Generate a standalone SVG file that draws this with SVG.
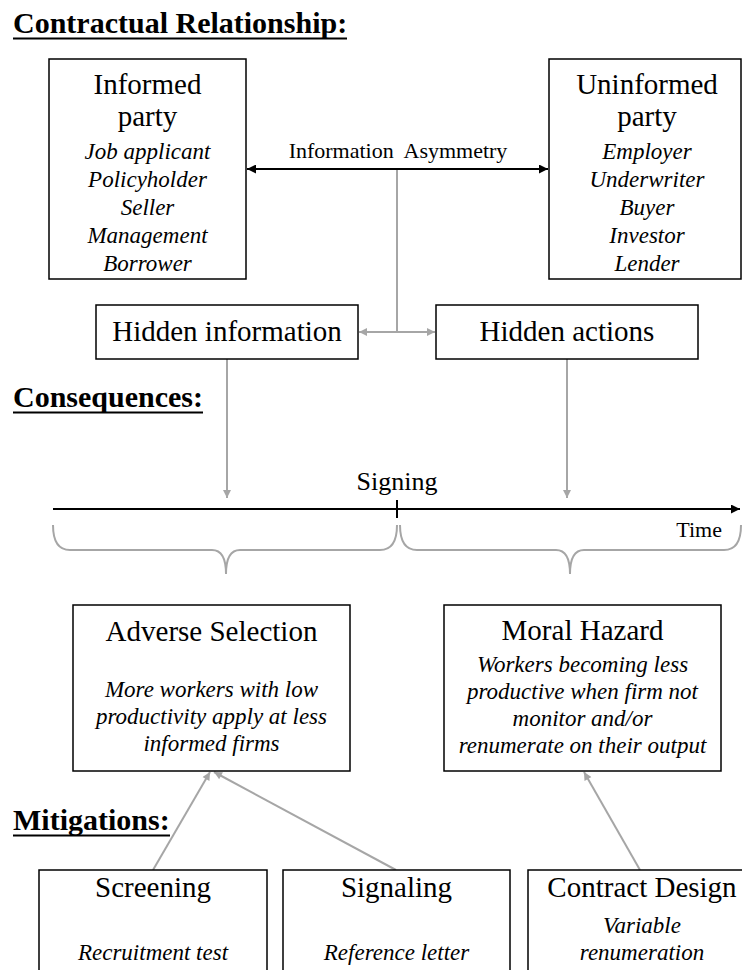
<svg xmlns="http://www.w3.org/2000/svg" width="742" height="970" viewBox="0 0 742 970">
  <defs>
    <marker id="headBlack" viewBox="0 0 10 10" refX="10" refY="5" markerWidth="10" markerHeight="9" markerUnits="userSpaceOnUse" orient="auto-start-reverse">
      <path d="M0,0 L10,5 L0,10 Z" fill="#000"/>
    </marker>
    <marker id="headGray" viewBox="0 0 10 10" refX="10" refY="5" markerWidth="10" markerHeight="8" markerUnits="userSpaceOnUse" orient="auto-start-reverse">
      <path d="M0,0 L10,5 L0,10 Z" fill="#a6a6a6"/>
    </marker>
  </defs>
  <style>
    .box { fill: #fff; stroke: #000; stroke-width: 1.5; }
    .head { font-family: "Liberation Serif", "Times New Roman", serif; font-size: 30px; font-weight: bold; fill: #000; }
    .uline { stroke: #000; stroke-width: 2; }
    .title { font-family: "Liberation Serif", "Times New Roman", serif; font-size: 29px; fill: #000; text-anchor: middle; }
    .ital { font-family: "Liberation Serif", "Times New Roman", serif; font-size: 23px; font-style: italic; fill: #000; text-anchor: middle; }
    .lbl { font-family: "Liberation Serif", "Times New Roman", serif; font-size: 22px; fill: #000; }
    .lbl.big { font-size: 26px; }
    .gray { fill: none; stroke: #a6a6a6; stroke-width: 2; }
    .black { fill: none; stroke: #000; stroke-width: 2; }
  </style>
  <rect width="742" height="970" fill="#fff"/>

  <!-- section headings -->
  <g id="headings">
    <text class="head" x="13" y="33">Contractual Relationship:</text>
    <line class="uline" x1="13" y1="38.5" x2="347" y2="38.5"/>
    <text class="head" x="13" y="407">Consequences:</text>
    <line class="uline" x1="13" y1="412.5" x2="203" y2="412.5"/>
    <text class="head" x="13" y="830">Mitigations:</text>
    <line class="uline" x1="13" y1="835.5" x2="170" y2="835.5"/>
  </g>

  <!-- connectors -->
  <g id="connectors">
    <line class="black" x1="247" y1="169" x2="548" y2="169" marker-start="url(#headBlack)" marker-end="url(#headBlack)"/>
    <line class="gray" x1="397" y1="170" x2="397" y2="332"/>
    <line class="gray" x1="359" y1="332" x2="435" y2="332" marker-start="url(#headGray)" marker-end="url(#headGray)"/>
    <line class="gray" x1="227" y1="359" x2="227" y2="498" marker-end="url(#headGray)"/>
    <line class="gray" x1="567" y1="359" x2="567" y2="498" marker-end="url(#headGray)"/>
    <line class="gray" x1="153" y1="870" x2="210" y2="772" marker-end="url(#headGray)"/>
    <line class="gray" x1="396" y1="870" x2="214" y2="772" marker-end="url(#headGray)"/>
    <line class="gray" x1="640" y1="870" x2="584" y2="772" marker-end="url(#headGray)"/>
  </g>

  <g id="info-asymmetry-label">
    <text class="lbl" x="398" y="158" text-anchor="middle" xml:space="preserve">Information  Asymmetry</text>
  </g>

  <!-- timeline -->
  <g id="timeline">
    <line class="black" x1="53" y1="509" x2="740" y2="509" marker-end="url(#headBlack)"/>
    <line class="black" x1="397" y1="500" x2="397" y2="518"/>
    <text class="lbl big" x="397" y="490" text-anchor="middle">Signing</text>
    <text class="lbl" x="722" y="537" text-anchor="end">Time</text>
    <path class="gray" d="M53,525 Q53,550 70,550 H212 Q226,550 226,574 Q226,550 240,550 H380 Q397,550 397,525"/>
    <path class="gray" d="M400,525 Q400,550 417,550 H556 Q570,550 570,574 Q570,550 584,550 H724 Q741,550 741,525"/>
  </g>

  <g id="informed-party">
    <rect class="box" x="49" y="59" width="197" height="220"/>
    <text class="title" x="147.5" y="94">Informed</text>
    <text class="title" x="147.5" y="126">party</text>
    <text class="ital" x="147.5" y="159">Job applicant</text>
    <text class="ital" x="147.5" y="187">Policyholder</text>
    <text class="ital" x="147.5" y="215">Seller</text>
    <text class="ital" x="147.5" y="243">Management</text>
    <text class="ital" x="147.5" y="271">Borrower</text>
  </g>

  <g id="uninformed-party">
    <rect class="box" x="549" y="59" width="192" height="220"/>
    <text class="title" x="647" y="94">Uninformed</text>
    <text class="title" x="647" y="126">party</text>
    <text class="ital" x="647" y="159">Employer</text>
    <text class="ital" x="647" y="187">Underwriter</text>
    <text class="ital" x="647" y="215">Buyer</text>
    <text class="ital" x="647" y="243">Investor</text>
    <text class="ital" x="647" y="271">Lender</text>
  </g>

  <g id="hidden-information">
    <rect class="box" x="96" y="305" width="262" height="54"/>
    <text class="title" x="227" y="341">Hidden information</text>
  </g>

  <g id="hidden-actions">
    <rect class="box" x="436" y="305" width="262" height="54"/>
    <text class="title" x="567" y="341">Hidden actions</text>
  </g>

  <g id="adverse-selection">
    <rect class="box" x="73" y="605" width="277" height="166"/>
    <text class="title" x="211.5" y="641">Adverse Selection</text>
    <text class="ital" x="211.5" y="697">More workers with low</text>
    <text class="ital" x="211.5" y="724">productivity apply at less</text>
    <text class="ital" x="211.5" y="751">informed firms</text>
  </g>

  <g id="moral-hazard">
    <rect class="box" x="444" y="605" width="277" height="166"/>
    <text class="title" x="582.5" y="640">Moral Hazard</text>
    <text class="ital" x="582.5" y="672">Workers becoming less</text>
    <text class="ital" x="582.5" y="699">productive when firm not</text>
    <text class="ital" x="582.5" y="726">monitor and/or</text>
    <text class="ital" x="582.5" y="753">renumerate on their output</text>
  </g>

  <g id="screening">
    <rect class="box" x="39" y="870" width="228" height="110"/>
    <text class="title" x="153" y="897">Screening</text>
    <text class="ital" x="153" y="960">Recruitment test</text>
  </g>

  <g id="signaling">
    <rect class="box" x="283" y="870" width="227" height="110"/>
    <text class="title" x="396.5" y="897">Signaling</text>
    <text class="ital" x="396.5" y="960">Reference letter</text>
  </g>

  <g id="contract-design">
    <rect class="box" x="528" y="870" width="228" height="110"/>
    <text class="title" x="642" y="897">Contract Design</text>
    <text class="ital" x="642" y="933">Variable</text>
    <text class="ital" x="642" y="960">renumeration</text>
  </g>
</svg>
